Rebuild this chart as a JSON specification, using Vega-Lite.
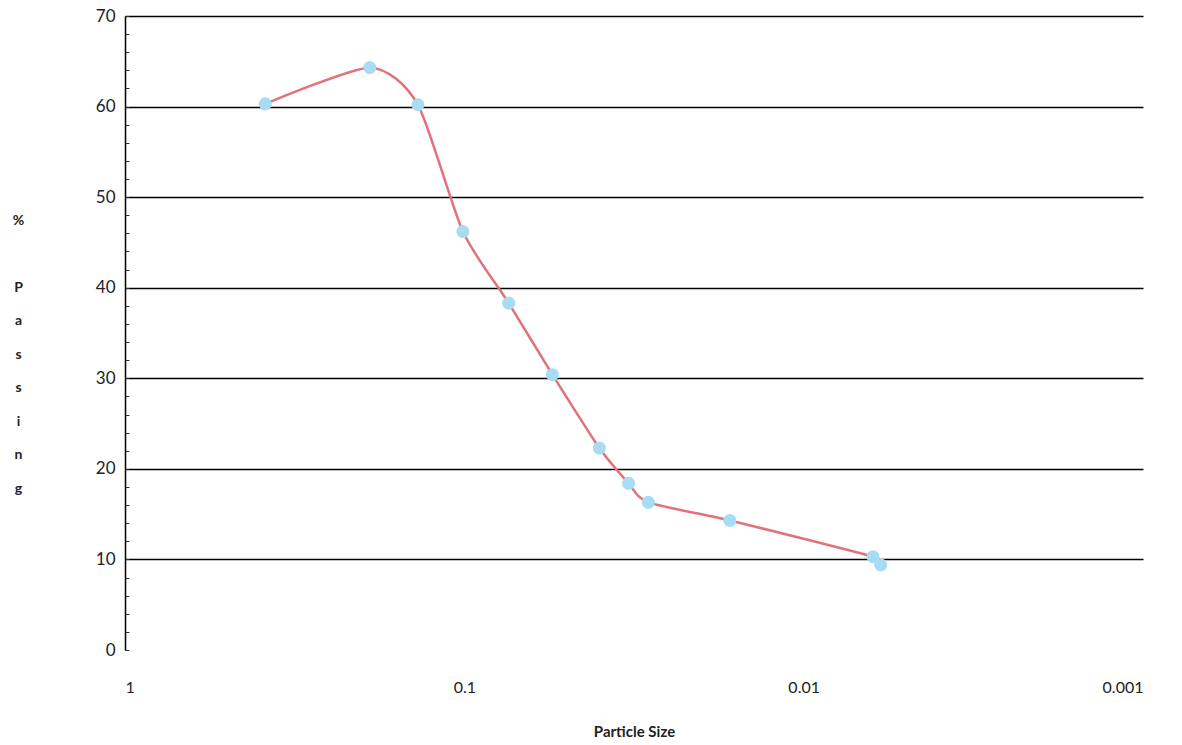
{
  "$schema": "https://vega.github.io/schema/vega-lite/v6.json",
  "width": 1018,
  "height": 634,
  "autosize": "none",
  "padding": {"left": 125, "top": 16, "right": 39, "bottom": 95},
  "background": "white",
  "config": {"view": {"stroke": null}, "font": "Lato"},
  "data": {"values": [
    {"size": 0.386, "passing": 60.3},
    {"size": 0.19, "passing": 64.3},
    {"size": 0.137, "passing": 60.2},
    {"size": 0.101, "passing": 46.2},
    {"size": 0.074, "passing": 38.3},
    {"size": 0.055, "passing": 30.4},
    {"size": 0.040, "passing": 22.3},
    {"size": 0.0328, "passing": 18.4},
    {"size": 0.0287, "passing": 16.3},
    {"size": 0.0165, "passing": 14.3},
    {"size": 0.00625, "passing": 10.3},
    {"size": 0.00593, "passing": 9.4}
  ]},
  "encoding": {
    "x": {
      "field": "size", "type": "quantitative",
      "scale": {"type": "log", "domain": [0.001, 1], "reverse": true, "nice": false},
      "axis": {
        "title": "Particle Size", "values": [1, 0.1, 0.01, 0.001], "format": "~g",
        "domain": false, "ticks": false, "grid": false,
        "labelFontSize": 16, "labelColor": "#222", "labelPadding": 29,
        "labelFont": "Lato", "titleFont": "Lato", "titleFontSize": 15, "titleFontWeight": "bold",
        "titleColor": "#222", "titlePadding": 29
      }
    },
    "y": {
      "field": "passing", "type": "quantitative",
      "scale": {"domain": [0, 70], "nice": false},
      "axis": {
        "values": [0,2,4,6,8,10,12,14,16,18,20,22,24,26,28,30,32,34,36,38,40,42,44,46,48,50,52,54,56,58,60,62,64,66,68,70],
        "labelExpr": "datum.value % 10 === 0 ? datum.label : ''",
        "title": ["%", "\u200b", "P", "a", "s", "s", "i", "n", "g"],
        "titleAngle": 0, "titleAlign": "center", "titleBaseline": "top",
        "titleX": -107, "titleY": 197, "titleLineHeight": 33.5,
        "titleFontSize": 14, "titleFontWeight": "bold", "titleColor": "#222",
        "domainColor": "black", "domainWidth": 1.5,
        "tickColor": "#333", "tickSize": -4, "tickWidth": 1,
        "gridColor": {"condition": {"test": "datum.value % 10 !== 0 || datum.value === 0", "value": "transparent"}, "value": "black"},
        "gridWidth": 1.3,
        "labelFontSize": 17, "labelColor": "#222", "labelPadding": 14
      }
    }
  },
  "layer": [
    {"mark": {"type": "line", "interpolate": "cardinal", "tension": 0.3, "color": "#e0727c", "strokeWidth": 2.5}},
    {"mark": {"type": "point", "filled": true, "color": "#a8dcf2", "opacity": 1, "size": 170}}
  ]
}
